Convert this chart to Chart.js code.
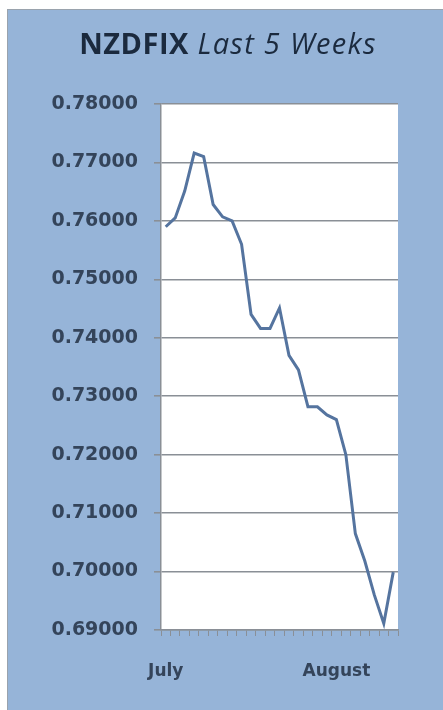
<!DOCTYPE html>
<html>
<head>
<meta charset="utf-8">
<script src="https://cdn.jsdelivr.net/npm/chart.js@4"></script>
<style>
  html, body { margin: 0; padding: 0; background: #ffffff; }
  body { width: 443px; height: 710px; position: relative; overflow: hidden; }
  #panel { position: absolute; left: 7px; top: 9px; width: 436px; height: 701px;
           background: #96b4d8; border-top: 1px solid #9aa3ad; border-left: 1px solid #9aa3ad; }
  #wrap { position: absolute; left: 0; top: 0; width: 435px; height: 700px; }
  #title { position: absolute; left: 0; width: 440px; top: 16px; text-align: center;
           font-family: "Open Sans", sans-serif; font-size: 29px; color: #1b2a3e; line-height: 34px;
           letter-spacing: 1px; white-space: nowrap; }
  #title b { font-weight: 700; letter-spacing: 0.5px; }
  #title i { font-weight: 400; font-style: italic; letter-spacing: 1.3px; }
</style>
</head>
<body>
<div id="panel">
  <div id="wrap"><canvas id="c" width="435" height="700"></canvas></div>
  <div id="title"><b>NZDFIX</b> <i>Last 5 Weeks</i></div>
</div>
<script>
const categories = ["July","","","","","","","","","","","","","","","","","","August","","","","","",""];
const nzdfix = [0.7590,0.7605,0.7651,0.7716,0.7710,0.7628,0.7607,0.7600,0.7560,0.7440,0.7416,0.7416,0.7451,0.7370,0.7345,0.7282,0.7282,0.7268,0.7260,0.7200,0.7065,0.7018,0.6960,0.6911,0.6999];
const yTicks = [0.69,0.70,0.71,0.72,0.73,0.74,0.75,0.76,0.77,0.78];

const plotBg = {
  id: 'plotBg',
  beforeDraw(chart) {
    const {ctx, chartArea: a} = chart;
    ctx.save();
    ctx.fillStyle = '#ffffff';
    ctx.fillRect(a.left, a.top, a.right - a.left, a.bottom - a.top);
    ctx.restore();
  }
};

new Chart(document.getElementById('c'), {
  type: 'line',
  data: {
    labels: categories,
    datasets: [{
      data: nzdfix,
      borderColor: '#55749f',
      borderWidth: 3,
      pointRadius: 0,
      tension: 0,
      fill: false
    }]
  },
  options: {
    responsive: false,
    animation: false,
    devicePixelRatio: 1,
    layout: { padding: { top: 94, right: 45, left: 0, bottom: 0 } },
    plugins: { legend: { display: false }, tooltip: { enabled: false }, title: { display: false } },
    scales: {
      x: {
        type: 'category',
        offset: true,
        grid: { display: true, offset: true, drawOnChartArea: false, drawTicks: true, tickLength: 6, color: '#8a8f96', lineWidth: 1 },
        border: { display: true, color: '#8a8f96', width: 1.5 },
        ticks: { autoSkip: false, maxRotation: 0, minRotation: 0, padding: 25,
                 color: '#34445a', font: { family: 'DejaVu Sans', size: 17, weight: 'bold' } },
        afterFit(scale) { scale.height = 80; }
      },
      y: {
        type: 'linear',
        min: 0.69,
        max: 0.78,
        afterBuildTicks(scale) { scale.ticks = yTicks.map(v => ({ value: v })); },
        grid: { color: '#8a8f96', lineWidth: 1.6, drawTicks: true, tickLength: 7 },
        border: { display: true, color: '#8a8f96', width: 1.5 },
        ticks: { padding: 16, color: '#34445a',
                 font: { family: 'DejaVu Sans', size: 19, weight: 'bold' },
                 callback: v => Number(v).toFixed(5) },
        afterFit(scale) { scale.width = 153; }
      }
    }
  },
  plugins: [plotBg]
});
</script>
</body>
</html>
